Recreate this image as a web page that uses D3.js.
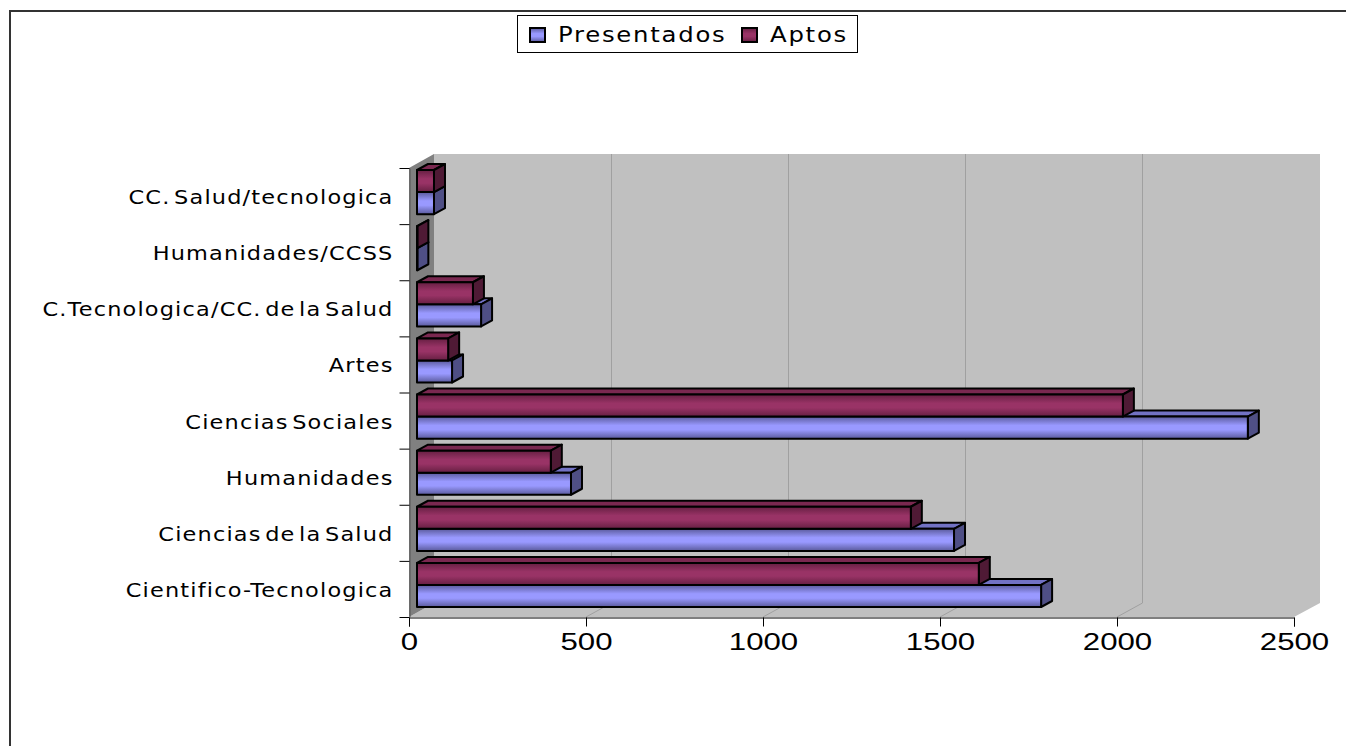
<!DOCTYPE html>
<html>
<head>
<meta charset="utf-8">
<script src="https://cdn.jsdelivr.net/npm/d3@7"></script>
<style>
  html, body { margin: 0; padding: 0; background: #fff; overflow: hidden; }
  text { fill: #000; }
</style>
</head>
<body>
<div id="chart"></div>
<script>
// data
const categories = ["Cientifico-Tecnologica", "Ciencias de la Salud", "Humanidades", "Ciencias Sociales",
    "Artes", "C.Tecnologica/CC. de la Salud", "Humanidades/CCSS", "CC. Salud/tecnologica"];
const presentados = [1763, 1517, 435, 2347, 99, 181, 1, 48];
const aptos = [1587, 1395, 378, 1994, 88, 158, 1, 48];
const seriesNames = ["Presentados", "Aptos"];
const xTicks = [0, 500, 1000, 1500, 2000, 2500];

const width = 1346, height = 746;
const wall = { dx: 25, dy: -14 };   // depth of the chart box
const barDepth = { dx: 11, dy: -6 };
const barShift = 8;

const svg = d3.select("#chart").append("svg")
    .attr("width", width)
    .attr("height", height);

const defs = svg.append("defs");
const colors = {
    Presentados: { mid: "#9999ff", edge: "#5a5a9c", side: "#4f4f85", top: "#7272c4" },
    Aptos: { mid: "#993366", edge: "#661f42", side: "#4f1a35", top: "#7a2850" }
};
seriesNames.forEach(name => {
    const g = defs.append("linearGradient").attr("id", "grad" + name)
        .attr("x1", 0).attr("y1", 0).attr("x2", 0).attr("y2", 1);
    g.append("stop").attr("offset", "0%").attr("stop-color", colors[name].edge);
    g.append("stop").attr("offset", "40%").attr("stop-color", colors[name].mid);
    g.append("stop").attr("offset", "60%").attr("stop-color", colors[name].mid);
    g.append("stop").attr("offset", "100%").attr("stop-color", colors[name].edge);
});

const x = d3.scaleLinear().domain([0, 2500]).range([409, 1294]);
const y = d3.scaleBand().domain(categories).range([617, 168]);
const inner = d3.scaleBand().domain(["Aptos", "Presentados"]).range([2, y.bandwidth() - 10]);

// outer frame
svg.append("path")
    .attr("d", `M${width},11H10V${height}`)
    .attr("fill", "none").attr("stroke", "#333").attr("stroke-width", 2);

// back wall and floor
const x0 = x(0), x1 = x(2500), yTop = y.range()[1], yBot = y.range()[0];
svg.append("path")
    .attr("d", `M${x0},${yBot}L${x0 + wall.dx},${yBot + wall.dy}V${yTop + wall.dy}H${x1 + wall.dx + 1}V${yBot + wall.dy}L${x1},${yBot}Z`)
    .attr("fill", "#c0c0c0");
// left side wall
svg.append("path")
    .attr("d", `M${x0},${yBot}L${x0 + wall.dx},${yBot + wall.dy}V${yTop + wall.dy}L${x0},${yTop}Z`)
    .attr("fill", "#808080");

// gridlines on the wall and floor
svg.selectAll(".grid")
    .data(xTicks.slice(1, -1))
    .enter().append("path")
    .attr("class", "grid")
    .attr("d", d => `M${x(d)},${yBot}L${x(d) + wall.dx + 0.5},${yBot + wall.dy}V${yTop + wall.dy}`)
    .attr("fill", "none")
    .attr("stroke", "#a0a0a0");

// axes
const xAxis = svg.append("g")
    .attr("transform", `translate(0,${yBot + 0.5})`)
    .call(d3.axisBottom(x).tickValues(xTicks).tickFormat(d3.format("d")).tickSizeOuter(0).tickSize(9).tickPadding(6));
xAxis.selectAll("text")
    .attr("transform", "scale(1.3,1)")
    .style("font-family", "'Liberation Sans'")
    .style("font-size", "24px");

const yAxis = svg.append("g")
    .attr("transform", `translate(${x0 + 0.5},0)`)
    .call(d3.axisLeft(d3.scaleLinear().domain([0, categories.length]).range([yBot, yTop]))
        .tickValues(d3.range(0, categories.length + 1)).tickSize(10).tickSizeOuter(0).tickFormat(""));
yAxis.select(".domain").attr("stroke", "#555");

svg.selectAll(".catLabel")
    .data(categories)
    .enter().append("text")
    .attr("class", "catLabel")
    .attr("transform", d => `translate(393.5,${y(d) + y.bandwidth() / 2 + 8}) scale(1.18,1)`)
    .attr("text-anchor", "end")
    .style("font-family", "'DejaVu Sans'")
    .style("font-size", "19px")
    .style("letter-spacing", "1px")
    .style("word-spacing", "-4px")
    .text(d => d);

// bars, top category first; Presentados before Aptos so Aptos sits over its top face
const rows = [];
categories.forEach((c, i) => {
    rows.push({ cat: c, name: "Presentados", value: presentados[i] });
    rows.push({ cat: c, name: "Aptos", value: aptos[i] });
});
rows.sort((a, b) => categories.indexOf(b.cat) - categories.indexOf(a.cat));

const bar = svg.selectAll(".bar")
    .data(rows)
    .enter().append("g")
    .attr("class", "bar")
    .attr("stroke", "#000")
    .attr("stroke-width", 2)
    .attr("stroke-linejoin", "round");

const bx0 = () => x(0) + barShift;
const bx1 = d => x(d.value) + barShift;
const by0 = d => y(d.cat) + inner(d.name);
const bh = inner.bandwidth();

bar.append("path")
    .attr("fill", d => colors[d.name].top)
    .attr("d", d => `M${bx0()},${by0(d)}l${barDepth.dx},${barDepth.dy}H${bx1(d) + barDepth.dx}L${bx1(d)},${by0(d)}Z`);
bar.append("path")
    .attr("fill", d => colors[d.name].side)
    .attr("d", d => `M${bx1(d)},${by0(d)}l${barDepth.dx},${barDepth.dy}v${bh}l${-barDepth.dx},${-barDepth.dy}Z`);
bar.append("rect")
    .attr("x", bx0)
    .attr("y", by0)
    .attr("width", d => bx1(d) - bx0())
    .attr("height", bh)
    .attr("fill", d => `url(#grad${d.name})`);

// legend
const legend = svg.append("g");
legend.append("rect")
    .attr("x", 517.5).attr("y", 15.5).attr("width", 340).attr("height", 37)
    .attr("fill", "#fff").attr("stroke", "#000");
const legendX = { Presentados: 530, Aptos: 742 };
const item = legend.selectAll(".item")
    .data(seriesNames)
    .enter().append("g")
    .attr("class", "item");
item.append("rect")
    .attr("x", d => legendX[d]).attr("y", 28).attr("width", 15).attr("height", 14)
    .attr("fill", d => `url(#grad${d})`)
    .attr("stroke", "#000").attr("stroke-width", 2);
item.append("text")
    .attr("transform", d => `translate(${legendX[d] + 28},42) scale(1.16,1)`)
    .style("font-family", "'DejaVu Sans'")
    .style("font-size", "21px")
    .style("letter-spacing", "1.5px")
    .text(d => d);
</script>
</body>
</html>
